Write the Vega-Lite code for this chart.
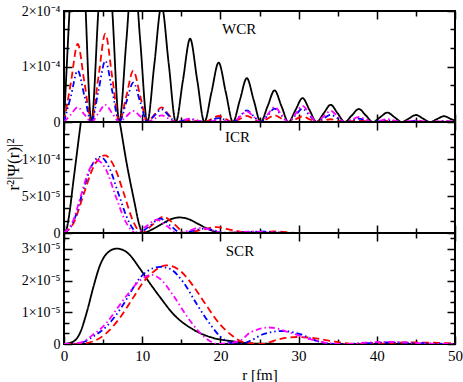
{
"$schema": "https://vega.github.io/schema/vega-lite/v6.json",
"background": "white",
"padding": {"left": 3, "top": 3, "right": 4, "bottom": 0},
"spacing": 0,
"bounds": "flush",
"config": {
  "view": {"stroke": "black", "strokeWidth": 2},
  "axis": {"domain": false, "grid": false, "labelFont": "Liberation Serif", "titleFont": "Liberation Serif", "labelColor": "black", "titleColor": "black", "tickColor": "black", "tickWidth": 1.5, "labelFontSize": 14, "titleFontSize": 16, "titleFontWeight": "normal", "labelOverlap": false, "labelFlush": false}
},
"datasets": {
"wcr": [
{"s":"k","r":0,"v":0},{"s":"k","r":0.875,"v":2.5e-4},{"s":"k","r":1.75,"v":5e-4},{"s":"k","r":2.625,"v":2.5e-4},
{"s":"k","r":3.5,"v":0},{"s":"k","r":4.39,"v":2e-4},{"s":"k","r":5.285,"v":4e-4},{"s":"k","r":6.18,"v":2e-4},
{"s":"k","r":7.07,"v":0},{"s":"k","r":7.965,"v":1.45e-4},{"s":"k","r":8.86,"v":2.9e-4},{"s":"k","r":9.755,"v":1.45e-4},
{"s":"k","r":10.65,"v":0},{"s":"k","r":11.56,"v":1.05e-4},{"s":"k","r":12.475,"v":2.1e-4},{"s":"k","r":13.39,"v":1.05e-4},
{"s":"k","r":14.3,"v":0},{"s":"k","r":15.21,"v":7.5e-5},{"s":"k","r":16.125,"v":1.5e-4},{"s":"k","r":17.04,"v":7.5e-5},
{"s":"k","r":17.95,"v":0},{"s":"k","r":18.86,"v":5.35e-5},{"s":"k","r":19.775,"v":1.07e-4},{"s":"k","r":20.69,"v":5.35e-5},
{"s":"k","r":21.6,"v":0},{"s":"k","r":22.49,"v":3.95e-5},{"s":"k","r":23.375,"v":7.9e-5},{"s":"k","r":24.26,"v":3.95e-5},
{"s":"k","r":25.15,"v":0},{"s":"k","r":26.04,"v":2.85e-5},{"s":"k","r":26.925,"v":5.7e-5},{"s":"k","r":27.81,"v":2.85e-5},
{"s":"k","r":28.7,"v":0},{"s":"k","r":29.6,"v":2.15e-5},{"s":"k","r":30.5,"v":4.3e-5},{"s":"k","r":31.4,"v":2.15e-5},
{"s":"k","r":32.3,"v":0},{"s":"k","r":33.2,"v":1.55e-5},{"s":"k","r":34.1,"v":3.1e-5},{"s":"k","r":35.0,"v":1.55e-5},
{"s":"k","r":35.9,"v":0},{"s":"k","r":36.8,"v":1.175e-5},{"s":"k","r":37.7,"v":2.35e-5},{"s":"k","r":38.6,"v":1.175e-5},
{"s":"k","r":39.5,"v":0},{"s":"k","r":40.425,"v":8.5e-6},{"s":"k","r":41.35,"v":1.7e-5},{"s":"k","r":42.275,"v":8.5e-6},
{"s":"k","r":43.2,"v":0},{"s":"k","r":44.1,"v":6.3e-6},{"s":"k","r":45.0,"v":1.26e-5},{"s":"k","r":45.9,"v":6.3e-6},
{"s":"k","r":46.8,"v":0},{"s":"k","r":47.7,"v":5.25e-6},{"s":"k","r":48.6,"v":1.05e-5},{"s":"k","r":49.5,"v":5.25e-6},{"s":"k","r":50.4,"v":0},
{"s":"rd","r":0,"v":0},{"s":"rd","r":0.875,"v":7.025e-5},{"s":"rd","r":1.75,"v":1.405e-4},{"s":"rd","r":2.625,"v":7.025e-5},
{"s":"rd","r":3.5,"v":0},{"s":"rd","r":4.39,"v":7.95e-5},{"s":"rd","r":5.285,"v":1.59e-4},{"s":"rd","r":6.18,"v":7.95e-5},
{"s":"rd","r":7.07,"v":0},{"s":"rd","r":7.965,"v":4.625e-5},{"s":"rd","r":8.86,"v":9.25e-5},{"s":"rd","r":9.755,"v":4.625e-5},
{"s":"rd","r":10.65,"v":0},{"s":"rd","r":11.56,"v":1.325e-5},{"s":"rd","r":12.475,"v":2.65e-5},{"s":"rd","r":13.39,"v":1.325e-5},
{"s":"rd","r":14.3,"v":0},{"s":"rd","r":15.21,"v":1.5e-6},{"s":"rd","r":16.125,"v":3e-6},{"s":"rd","r":17.04,"v":1.5e-6},
{"s":"rd","r":17.95,"v":0},{"s":"rd","r":18.86,"v":5.4e-6},{"s":"rd","r":19.775,"v":1.08e-5},{"s":"rd","r":20.69,"v":5.4e-6},
{"s":"rd","r":21.6,"v":0},{"s":"rd","r":22.49,"v":5.5e-6},{"s":"rd","r":23.375,"v":1.1e-5},{"s":"rd","r":24.26,"v":5.5e-6},
{"s":"rd","r":25.15,"v":0},{"s":"rd","r":26.04,"v":6e-6},{"s":"rd","r":26.925,"v":1.2e-5},{"s":"rd","r":27.81,"v":6e-6},
{"s":"rd","r":28.7,"v":0},{"s":"rd","r":29.6,"v":5e-6},{"s":"rd","r":30.5,"v":1e-5},{"s":"rd","r":31.4,"v":5e-6},
{"s":"rd","r":32.3,"v":0},{"s":"rd","r":33.2,"v":2.5e-6},{"s":"rd","r":34.1,"v":5e-6},{"s":"rd","r":35.0,"v":2.5e-6},
{"s":"rd","r":35.9,"v":0},{"s":"rd","r":36.8,"v":1.5e-6},{"s":"rd","r":37.7,"v":3e-6},{"s":"rd","r":38.6,"v":1.5e-6},
{"s":"rd","r":39.5,"v":0},{"s":"rd","r":40.425,"v":1e-6},{"s":"rd","r":41.35,"v":2e-6},{"s":"rd","r":42.275,"v":1e-6},
{"s":"rd","r":43.2,"v":0},{"s":"rd","r":44.1,"v":7.5e-7},{"s":"rd","r":45.0,"v":1.5e-6},{"s":"rd","r":45.9,"v":7.5e-7},
{"s":"rd","r":46.8,"v":0},{"s":"rd","r":47.7,"v":5e-7},{"s":"rd","r":48.6,"v":1e-6},{"s":"rd","r":49.5,"v":5e-7},{"s":"rd","r":50.4,"v":0},
{"s":"bl","r":0,"v":0},{"s":"bl","r":0.875,"v":4.625e-5},{"s":"bl","r":1.75,"v":9.25e-5},{"s":"bl","r":2.625,"v":4.625e-5},
{"s":"bl","r":3.5,"v":0},{"s":"bl","r":4.39,"v":5.5e-5},{"s":"bl","r":5.285,"v":1.1e-4},{"s":"bl","r":6.18,"v":5.5e-5},
{"s":"bl","r":7.07,"v":0},{"s":"bl","r":7.965,"v":3.55e-5},{"s":"bl","r":8.86,"v":7.1e-5},{"s":"bl","r":9.755,"v":3.55e-5},
{"s":"bl","r":10.65,"v":0},{"s":"bl","r":11.56,"v":1.15e-5},{"s":"bl","r":12.475,"v":2.3e-5},{"s":"bl","r":13.39,"v":1.15e-5},
{"s":"bl","r":14.3,"v":0},{"s":"bl","r":15.21,"v":2.5e-6},{"s":"bl","r":16.125,"v":5e-6},{"s":"bl","r":17.04,"v":2.5e-6},
{"s":"bl","r":17.95,"v":0},{"s":"bl","r":18.86,"v":3.5e-6},{"s":"bl","r":19.775,"v":7e-6},{"s":"bl","r":20.69,"v":3.5e-6},
{"s":"bl","r":21.6,"v":0},{"s":"bl","r":22.49,"v":1.05e-5},{"s":"bl","r":23.375,"v":2.1e-5},{"s":"bl","r":24.26,"v":1.05e-5},
{"s":"bl","r":25.15,"v":0},{"s":"bl","r":26.04,"v":1.2e-5},{"s":"bl","r":26.925,"v":2.4e-5},{"s":"bl","r":27.81,"v":1.2e-5},
{"s":"bl","r":28.7,"v":0},{"s":"bl","r":29.6,"v":1.2e-5},{"s":"bl","r":30.5,"v":2.4e-5},{"s":"bl","r":31.4,"v":1.2e-5},
{"s":"bl","r":32.3,"v":0},{"s":"bl","r":33.2,"v":6.5e-6},{"s":"bl","r":34.1,"v":1.3e-5},{"s":"bl","r":35.0,"v":6.5e-6},
{"s":"bl","r":35.9,"v":0},{"s":"bl","r":36.8,"v":3e-6},{"s":"bl","r":37.7,"v":6e-6},{"s":"bl","r":38.6,"v":3e-6},
{"s":"bl","r":39.5,"v":0},{"s":"bl","r":40.425,"v":1.5e-6},{"s":"bl","r":41.35,"v":3e-6},{"s":"bl","r":42.275,"v":1.5e-6},
{"s":"bl","r":43.2,"v":0},{"s":"bl","r":44.1,"v":1e-6},{"s":"bl","r":45.0,"v":2e-6},{"s":"bl","r":45.9,"v":1e-6},
{"s":"bl","r":46.8,"v":0},{"s":"bl","r":47.7,"v":5e-7},{"s":"bl","r":48.6,"v":1e-6},{"s":"bl","r":49.5,"v":5e-7},{"s":"bl","r":50.4,"v":0},
{"s":"mg","r":0,"v":0},{"s":"mg","r":0.875,"v":1.325e-5},{"s":"mg","r":1.75,"v":2.65e-5},{"s":"mg","r":2.625,"v":1.325e-5},
{"s":"mg","r":3.5,"v":0},{"s":"mg","r":4.39,"v":1.55e-5},{"s":"mg","r":5.285,"v":3.1e-5},{"s":"mg","r":6.18,"v":1.55e-5},
{"s":"mg","r":7.07,"v":0},{"s":"mg","r":7.965,"v":1e-5},{"s":"mg","r":8.86,"v":2e-5},{"s":"mg","r":9.755,"v":1e-5},
{"s":"mg","r":10.65,"v":0},{"s":"mg","r":11.56,"v":6e-6},{"s":"mg","r":12.475,"v":1.2e-5},{"s":"mg","r":13.39,"v":6e-6},
{"s":"mg","r":14.3,"v":0},{"s":"mg","r":15.21,"v":3e-6},{"s":"mg","r":16.125,"v":6e-6},{"s":"mg","r":17.04,"v":3e-6},
{"s":"mg","r":17.95,"v":0},{"s":"mg","r":18.86,"v":1.5e-6},{"s":"mg","r":19.775,"v":3e-6},{"s":"mg","r":20.69,"v":1.5e-6},
{"s":"mg","r":21.6,"v":0},{"s":"mg","r":22.49,"v":9.5e-6},{"s":"mg","r":23.375,"v":1.9e-5},{"s":"mg","r":24.26,"v":9.5e-6},
{"s":"mg","r":25.15,"v":0},{"s":"mg","r":26.04,"v":1.35e-5},{"s":"mg","r":26.925,"v":2.7e-5},{"s":"mg","r":27.81,"v":1.35e-5},
{"s":"mg","r":28.7,"v":0},{"s":"mg","r":29.6,"v":1.45e-5},{"s":"mg","r":30.5,"v":2.9e-5},{"s":"mg","r":31.4,"v":1.45e-5},
{"s":"mg","r":32.3,"v":0},{"s":"mg","r":33.2,"v":1e-5},{"s":"mg","r":34.1,"v":2e-5},{"s":"mg","r":35.0,"v":1e-5},
{"s":"mg","r":35.9,"v":0},{"s":"mg","r":36.8,"v":4.5e-6},{"s":"mg","r":37.7,"v":9e-6},{"s":"mg","r":38.6,"v":4.5e-6},
{"s":"mg","r":39.5,"v":0},{"s":"mg","r":40.425,"v":2.5e-6},{"s":"mg","r":41.35,"v":5e-6},{"s":"mg","r":42.275,"v":2.5e-6},
{"s":"mg","r":43.2,"v":0},{"s":"mg","r":44.1,"v":1.5e-6},{"s":"mg","r":45.0,"v":3e-6},{"s":"mg","r":45.9,"v":1.5e-6},
{"s":"mg","r":46.8,"v":0},{"s":"mg","r":47.7,"v":1e-6},{"s":"mg","r":48.6,"v":2e-6},{"s":"mg","r":49.5,"v":1e-6},{"s":"mg","r":50.4,"v":0}
],
"icr": [
{"s":"k","r":0,"v":0},{"s":"k","r":0.3,"v":4e-6},{"s":"k","r":0.6,"v":2e-5},{"s":"k","r":1.2,"v":7e-5},{"s":"k","r":2.13,"v":1.48e-4},{"s":"k","r":3,"v":2.2e-4},{"s":"k","r":4.2,"v":2.6e-4},{"s":"k","r":5.4,"v":2.4e-4},{"s":"k","r":6.3,"v":2e-4},{"s":"k","r":7.16,"v":1.48e-4},{"s":"k","r":8,"v":9.5e-5},{"s":"k","r":9,"v":4.2e-5},{"s":"k","r":9.6,"v":1.2e-5},{"s":"k","r":10.06,"v":0},{"s":"k","r":11.3,"v":5e-6},{"s":"k","r":12.5,"v":1.2e-5},{"s":"k","r":13.6,"v":1.85e-5},{"s":"k","r":14.8,"v":2.1e-5},{"s":"k","r":16,"v":1.85e-5},{"s":"k","r":17.2,"v":1.2e-5},{"s":"k","r":18.5,"v":5e-6},{"s":"k","r":20.2,"v":0},{"s":"k","r":21.5,"v":5e-7},{"s":"k","r":23,"v":8e-7},{"s":"k","r":25,"v":3e-7},{"s":"k","r":27,"v":0},{"s":"k","r":50,"v":0},
{"s":"rd","r":0,"v":0},{"s":"rd","r":1.3,"v":1.5e-5},{"s":"rd","r":2.5,"v":5.2e-5},{"s":"rd","r":3.8,"v":9e-5},{"s":"rd","r":5.24,"v":1.05e-4},{"s":"rd","r":6.5,"v":8.8e-5},{"s":"rd","r":7.6,"v":5.5e-5},{"s":"rd","r":8.8,"v":1.7e-5},{"s":"rd","r":9.93,"v":0},{"s":"rd","r":11.3,"v":1.1e-5},{"s":"rd","r":12.7,"v":2.2e-5},{"s":"rd","r":14.1,"v":1.2e-5},{"s":"rd","r":15.5,"v":0},{"s":"rd","r":17.5,"v":4e-6},{"s":"rd","r":19.5,"v":8e-6},{"s":"rd","r":21.5,"v":4e-6},{"s":"rd","r":24,"v":0},{"s":"rd","r":27,"v":2e-6},{"s":"rd","r":30,"v":0},{"s":"rd","r":50,"v":0},
{"s":"bl","r":0,"v":0},{"s":"bl","r":1.2,"v":1.5e-5},{"s":"bl","r":2.3,"v":5.2e-5},{"s":"bl","r":3.5,"v":9e-5},{"s":"bl","r":4.6,"v":1.03e-4},{"s":"bl","r":5.8,"v":8.8e-5},{"s":"bl","r":7,"v":5.2e-5},{"s":"bl","r":8.3,"v":1.5e-5},{"s":"bl","r":9.5,"v":0},{"s":"bl","r":10.9,"v":9e-6},{"s":"bl","r":12.3,"v":1.95e-5},{"s":"bl","r":13.6,"v":1e-5},{"s":"bl","r":15,"v":0},{"s":"bl","r":16.5,"v":3e-6},{"s":"bl","r":18,"v":6e-6},{"s":"bl","r":19.5,"v":3e-6},{"s":"bl","r":21,"v":0},{"s":"bl","r":25,"v":2e-6},{"s":"bl","r":29,"v":0},{"s":"bl","r":50,"v":0},
{"s":"mg","r":0,"v":0},{"s":"mg","r":1.1,"v":1.5e-5},{"s":"mg","r":2.15,"v":5e-5},{"s":"mg","r":3.2,"v":8.5e-5},{"s":"mg","r":4.26,"v":9.8e-5},{"s":"mg","r":5.4,"v":8.5e-5},{"s":"mg","r":6.6,"v":5e-5},{"s":"mg","r":7.9,"v":1.5e-5},{"s":"mg","r":9.2,"v":0},{"s":"mg","r":10.5,"v":9e-6},{"s":"mg","r":11.85,"v":1.8e-5},{"s":"mg","r":13.2,"v":9e-6},{"s":"mg","r":14.5,"v":0},{"s":"mg","r":16,"v":3.5e-6},{"s":"mg","r":17.5,"v":7e-6},{"s":"mg","r":19,"v":3.5e-6},{"s":"mg","r":20.5,"v":0},{"s":"mg","r":24,"v":2e-6},{"s":"mg","r":28,"v":0},{"s":"mg","r":50,"v":0}
],
"scr": [
{"s":"k","r":0,"v":0},{"s":"k","r":1.2,"v":8e-7},{"s":"k","r":2.05,"v":3.5e-6},{"s":"k","r":2.9,"v":9.9e-6},{"s":"k","r":3.75,"v":1.79e-5},{"s":"k","r":4.6,"v":2.48e-5},{"s":"k","r":5.46,"v":2.85e-5},{"s":"k","r":6.74,"v":3.01e-5},{"s":"k","r":8,"v":2.9e-5},{"s":"k","r":9.7,"v":2.38e-5},{"s":"k","r":10.6,"v":2.05e-5},{"s":"k","r":12.3,"v":1.47e-5},{"s":"k","r":14,"v":9.4e-6},{"s":"k","r":16.5,"v":4.6e-6},{"s":"k","r":19.1,"v":1.9e-6},{"s":"k","r":21.6,"v":8.5e-7},{"s":"k","r":23.3,"v":3e-7},{"s":"k","r":25,"v":1e-7},{"s":"k","r":30,"v":5e-8},{"s":"k","r":50,"v":0},
{"s":"rd","r":0,"v":0},{"s":"rd","r":2,"v":1e-7},{"s":"rd","r":3.75,"v":8.5e-7},{"s":"rd","r":5.46,"v":3.5e-6},{"s":"rd","r":7.16,"v":8.3e-6},{"s":"rd","r":8.87,"v":1.47e-5},{"s":"rd","r":10.14,"v":1.95e-5},{"s":"rd","r":11.4,"v":2.27e-5},{"s":"rd","r":13.1,"v":2.48e-5},{"s":"rd","r":14.8,"v":2.32e-5},{"s":"rd","r":16.5,"v":1.84e-5},{"s":"rd","r":18.25,"v":1.2e-5},{"s":"rd","r":19.95,"v":6.2e-6},{"s":"rd","r":21.6,"v":2.45e-6},{"s":"rd","r":22.9,"v":6e-7},{"s":"rd","r":24.5,"v":1e-7},{"s":"rd","r":25.5,"v":0},{"s":"rd","r":26.8,"v":1e-6},{"s":"rd","r":28.3,"v":1.9e-6},{"s":"rd","r":29.8,"v":2.2e-6},{"s":"rd","r":31.5,"v":2e-6},{"s":"rd","r":34,"v":1e-6},{"s":"rd","r":36.2,"v":2e-7},{"s":"rd","r":38,"v":0},{"s":"rd","r":41,"v":2e-7},{"s":"rd","r":44,"v":5e-7},{"s":"rd","r":47,"v":4e-7},{"s":"rd","r":50,"v":2e-7},
{"s":"bl","r":0,"v":0},{"s":"bl","r":2.05,"v":3e-7},{"s":"bl","r":3.75,"v":2.4e-6},{"s":"bl","r":5.46,"v":5.6e-6},{"s":"bl","r":6.74,"v":9.4e-6},{"s":"bl","r":8,"v":1.41e-5},{"s":"bl","r":9.3,"v":1.95e-5},{"s":"bl","r":10.6,"v":2.29e-5},{"s":"bl","r":12.3,"v":2.43e-5},{"s":"bl","r":13.55,"v":2.37e-5},{"s":"bl","r":15.25,"v":1.95e-5},{"s":"bl","r":16.97,"v":1.26e-5},{"s":"bl","r":18.7,"v":6.2e-6},{"s":"bl","r":19.95,"v":2.45e-6},{"s":"bl","r":21.2,"v":5e-7},{"s":"bl","r":22.5,"v":0},{"s":"bl","r":23.8,"v":1e-6},{"s":"bl","r":25.5,"v":3.1e-6},{"s":"bl","r":28,"v":4.1e-6},{"s":"bl","r":30.2,"v":3.1e-6},{"s":"bl","r":32.3,"v":1e-6},{"s":"bl","r":34,"v":1e-7},{"s":"bl","r":36,"v":0},{"s":"bl","r":39,"v":3e-7},{"s":"bl","r":42,"v":5e-7},{"s":"bl","r":45,"v":3e-7},{"s":"bl","r":48,"v":1e-7},{"s":"bl","r":50,"v":0},
{"s":"mg","r":0,"v":0},{"s":"mg","r":2.05,"v":4e-7},{"s":"mg","r":3.75,"v":3e-6},{"s":"mg","r":5.46,"v":6.7e-6},{"s":"mg","r":6.74,"v":1.1e-5},{"s":"mg","r":8,"v":1.52e-5},{"s":"mg","r":9.7,"v":2e-5},{"s":"mg","r":11.2,"v":2.18e-5},{"s":"mg","r":12.3,"v":2.05e-5},{"s":"mg","r":14,"v":1.52e-5},{"s":"mg","r":15.7,"v":8.8e-6},{"s":"mg","r":17.4,"v":3.5e-6},{"s":"mg","r":18.7,"v":8.5e-7},{"s":"mg","r":19.8,"v":0},{"s":"mg","r":21,"v":3e-7},{"s":"mg","r":22.5,"v":1e-6},{"s":"mg","r":23.8,"v":3.6e-6},{"s":"mg","r":26.3,"v":5.2e-6},{"s":"mg","r":28.9,"v":3.6e-6},{"s":"mg","r":31.5,"v":1.5e-6},{"s":"mg","r":34,"v":2e-7},{"s":"mg","r":36,"v":0},{"s":"mg","r":38.5,"v":4e-7},{"s":"mg","r":41,"v":7e-7},{"s":"mg","r":43.5,"v":5e-7},{"s":"mg","r":46,"v":2e-7},{"s":"mg","r":48,"v":0},{"s":"mg","r":50,"v":0}
]
},
"vconcat": [
{
 "width": 391, "height": 111,
 "data": {"name": "wcr"},
 "layer": [
  {"mark": {"type": "line", "strokeWidth": 1.8, "clip": true, "interpolate": "monotone"},
   "encoding": {
    "x": {"field": "r", "type": "quantitative", "scale": {"domain": [0, 50], "nice": false, "zero": false},
          "axis": {"orient": "bottom", "values": [0,5,10,15,20,25,30,35,40,45,50], "labels": false, "title": null, "tickSize": {"condition": {"test": "datum.value % 10 === 0", "value": -8}, "value": -5}}},
    "y": {"field": "v", "type": "quantitative", "scale": {"domain": [0, 0.0002], "nice": false},
          "axis": {"orient": "left", "values": [0, 3.33333e-5, 6.66667e-5, 1e-4, 1.333333e-4, 1.666667e-4, 2e-4], "title": null, "labelPadding": 12, "minExtent": 40, "maxExtent": 40,
                   "labelExpr": "datum.value < 1e-12 ? '0' : abs(datum.value - 1e-4) < 1e-9 ? '1×10⁻⁴' : abs(datum.value - 2e-4) < 1e-9 ? '2×10⁻⁴' : ''",
                   "tickSize": {"condition": {"test": "abs(datum.value / 1e-4 - round(datum.value / 1e-4)) < 0.01", "value": -8}, "value": -5}}},
    "color": {"field": "s", "type": "nominal", "scale": {"domain": ["k","rd","bl","mg"], "range": ["#000000","#ff0000","#0000ff","#ff00ff"]}, "legend": null},
    "strokeDash": {"field": "s", "type": "nominal", "scale": {"domain": ["k","rd","bl","mg"], "range": [[1,0],[7,4],[6,3,1.5,3,1.5,3],[6,3,1.5,3]]}, "legend": null}
   }},
  {"data": {"values": [{"r": 22.4, "v": 0.000168, "t": "WCR"}]},
   "mark": {"type": "text", "font": "Liberation Serif", "fontSize": 15, "align": "center", "baseline": "middle", "color": "black"},
   "encoding": {
    "x": {"field": "r", "type": "quantitative", "scale": {"domain": [0, 50], "nice": false, "zero": false},
          "axis": {"orient": "top", "values": [0,5,10,15,20,25,30,35,40,45,50], "labels": false, "title": null, "tickSize": {"condition": {"test": "datum.value % 10 === 0", "value": -8}, "value": -5}}},
    "y": {"field": "v", "type": "quantitative", "scale": {"domain": [0, 0.0002], "nice": false},
          "axis": {"orient": "right", "values": [0, 3.33333e-5, 6.66667e-5, 1e-4, 1.333333e-4, 1.666667e-4, 2e-4], "labels": false, "title": null,
                   "tickSize": {"condition": {"test": "abs(datum.value / 1e-4 - round(datum.value / 1e-4)) < 0.01", "value": -8}, "value": -5}}},
    "text": {"field": "t"}
   }}
 ],
 "resolve": {"axis": {"x": "independent", "y": "independent"}}
},
{
 "width": 391, "height": 111,
 "data": {"name": "icr"},
 "layer": [
  {"mark": {"type": "line", "strokeWidth": 1.8, "clip": true, "interpolate": "monotone"},
   "encoding": {
    "x": {"field": "r", "type": "quantitative", "scale": {"domain": [0, 50], "nice": false, "zero": false},
          "axis": {"orient": "bottom", "values": [0,5,10,15,20,25,30,35,40,45,50], "labels": false, "title": null, "tickSize": {"condition": {"test": "datum.value % 10 === 0", "value": -8}, "value": -5}}},
    "y": {"field": "v", "type": "quantitative", "scale": {"domain": [0, 0.00015], "nice": false},
          "axis": {"orient": "left", "values": [0, 1.666667e-5, 3.333333e-5, 5e-5, 6.666667e-5, 8.333333e-5, 1e-4, 1.1666667e-4, 1.3333333e-4], "title": "r²|Ψ(r)|²", "titleFontSize": 17, "titlePadding": 2, "titleY": 42, "labelPadding": 12, "minExtent": 40, "maxExtent": 40,
                   "labelExpr": "datum.value < 1e-12 ? '0' : abs(datum.value - 5e-5) < 1e-9 ? '5×10⁻⁵' : abs(datum.value - 1e-4) < 1e-9 ? '1×10⁻⁴' : ''",
                   "tickSize": {"condition": {"test": "abs(datum.value / 5e-5 - round(datum.value / 5e-5)) < 0.01", "value": -8}, "value": -5}}},
    "color": {"field": "s", "type": "nominal", "scale": {"domain": ["k","rd","bl","mg"], "range": ["#000000","#ff0000","#0000ff","#ff00ff"]}, "legend": null},
    "strokeDash": {"field": "s", "type": "nominal", "scale": {"domain": ["k","rd","bl","mg"], "range": [[1,0],[7,4],[6,3,1.5,3,1.5,3],[6,3,1.5,3]]}, "legend": null}
   }},
  {"data": {"values": [{"r": 22.2, "v": 0.00013, "t": "ICR"}]},
   "mark": {"type": "text", "font": "Liberation Serif", "fontSize": 15, "align": "center", "baseline": "middle", "color": "black"},
   "encoding": {
    "x": {"field": "r", "type": "quantitative", "scale": {"domain": [0, 50], "nice": false, "zero": false},
          "axis": {"orient": "top", "values": [0,5,10,15,20,25,30,35,40,45,50], "labels": false, "title": null, "tickSize": {"condition": {"test": "datum.value % 10 === 0", "value": -8}, "value": -5}}},
    "y": {"field": "v", "type": "quantitative", "scale": {"domain": [0, 0.00015], "nice": false},
          "axis": {"orient": "right", "values": [0, 1.666667e-5, 3.333333e-5, 5e-5, 6.666667e-5, 8.333333e-5, 1e-4, 1.1666667e-4, 1.3333333e-4], "labels": false, "title": null,
                   "tickSize": {"condition": {"test": "abs(datum.value / 5e-5 - round(datum.value / 5e-5)) < 0.01", "value": -8}, "value": -5}}},
    "text": {"field": "t"}
   }}
 ],
 "resolve": {"axis": {"x": "independent", "y": "independent"}}
},
{
 "width": 391, "height": 111,
 "data": {"name": "scr"},
 "layer": [
  {"mark": {"type": "line", "strokeWidth": 1.8, "clip": true, "interpolate": "monotone"},
   "encoding": {
    "x": {"field": "r", "type": "quantitative", "scale": {"domain": [0, 50], "nice": false, "zero": false},
          "axis": {"orient": "bottom", "values": [0,5,10,15,20,25,30,35,40,45,50], "labelExpr": "datum.value % 10 === 0 ? datum.label : ''", "labelFontSize": 15, "labelPadding": 12, "title": "r [fm]", "titleFontSize": 15, "titlePadding": 1, "tickSize": {"condition": {"test": "datum.value % 10 === 0", "value": -8}, "value": -5}}},
    "y": {"field": "v", "type": "quantitative", "scale": {"domain": [0, 0.000035], "nice": false},
          "axis": {"orient": "left", "values": [0, 3.333333e-6, 6.666667e-6, 1e-5, 1.3333333e-5, 1.6666667e-5, 2e-5, 2.3333333e-5, 2.6666667e-5, 3e-5, 3.3333333e-5], "title": null, "labelPadding": 12, "minExtent": 40, "maxExtent": 40,
                   "labelExpr": "datum.value < 1e-12 ? '0' : abs(datum.value - 1e-5) < 1e-10 ? '1×10⁻⁵' : abs(datum.value - 2e-5) < 1e-10 ? '2×10⁻⁵' : abs(datum.value - 3e-5) < 1e-10 ? '3×10⁻⁵' : ''",
                   "tickSize": {"condition": {"test": "abs(datum.value / 1e-5 - round(datum.value / 1e-5)) < 0.01", "value": -8}, "value": -5}}},
    "color": {"field": "s", "type": "nominal", "scale": {"domain": ["k","rd","bl","mg"], "range": ["#000000","#ff0000","#0000ff","#ff00ff"]}, "legend": null},
    "strokeDash": {"field": "s", "type": "nominal", "scale": {"domain": ["k","rd","bl","mg"], "range": [[1,0],[7,4],[6,3,1.5,3,1.5,3],[6,3,1.5,3]]}, "legend": null}
   }},
  {"data": {"values": [{"r": 22.5, "v": 0.0000293, "t": "SCR"}]},
   "mark": {"type": "text", "font": "Liberation Serif", "fontSize": 15, "align": "center", "baseline": "middle", "color": "black"},
   "encoding": {
    "x": {"field": "r", "type": "quantitative", "scale": {"domain": [0, 50], "nice": false, "zero": false},
          "axis": {"orient": "top", "values": [0,5,10,15,20,25,30,35,40,45,50], "labels": false, "title": null, "tickSize": {"condition": {"test": "datum.value % 10 === 0", "value": -8}, "value": -5}}},
    "y": {"field": "v", "type": "quantitative", "scale": {"domain": [0, 0.000035], "nice": false},
          "axis": {"orient": "right", "values": [0, 3.333333e-6, 6.666667e-6, 1e-5, 1.3333333e-5, 1.6666667e-5, 2e-5, 2.3333333e-5, 2.6666667e-5, 3e-5, 3.3333333e-5], "labels": false, "title": null,
                   "tickSize": {"condition": {"test": "abs(datum.value / 1e-5 - round(datum.value / 1e-5)) < 0.01", "value": -8}, "value": -5}}},
    "text": {"field": "t"}
   }}
 ],
 "resolve": {"axis": {"x": "independent", "y": "independent"}}
}
]
}
